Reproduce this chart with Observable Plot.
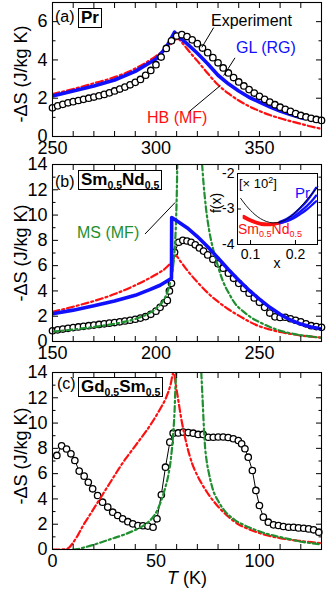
<!DOCTYPE html>
<html><head><meta charset="utf-8">
<script src="https://cdn.jsdelivr.net/npm/d3@7"></script>
<script src="https://cdn.jsdelivr.net/npm/@observablehq/plot@0.6"></script>
<style>
html,body{margin:0;padding:0;background:#fff;}
#wrap{position:relative;width:327px;height:591px;overflow:hidden;font-family:"Liberation Sans",Arial,sans-serif;color:#000;}
#wrap svg{position:absolute;left:0;overflow:visible;}
.t{position:absolute;white-space:nowrap;line-height:1;}
.box{position:absolute;border:1.6px solid #000;font-weight:bold;font-size:17px;line-height:18px;height:18px;padding:0 2px;white-space:nowrap;background:#fff;}
.sb{font-size:10.5px;position:relative;top:4px;}
.sbi{font-size:9px;position:relative;top:3px;}
</style></head><body><div id="wrap"></div>
<script>
// ---------- Panel (a) Pr ----------
const prT = [250,252.5,255,257.5,260,262.5,265,267.5,270,272.5,275,277.5,280,282.5,285,287.5,290,292.5,295,297.5,300,302.5,305,307.5,310,312.5,315,317.5,320,322.5,325,327.5,330,332.5,335,337.5,340,342.5,345,347.5,350,352.5,355,357.5,360,362.5,365,367.5,370,372.5,375,377.5,380];
const prExp = [1.50,1.60,1.68,1.76,1.82,1.88,1.94,2.00,2.06,2.13,2.20,2.28,2.38,2.48,2.58,2.70,2.83,2.98,3.20,3.45,3.75,4.15,4.60,5.00,5.25,5.32,5.22,5.05,4.85,4.62,4.38,4.12,3.85,3.58,3.32,3.08,2.85,2.64,2.45,2.27,2.10,1.94,1.80,1.66,1.53,1.42,1.31,1.20,1.10,1.02,0.95,0.89,0.84];
const prGLT = [250,260,270,280,290,300,303,306,309,311,315,320,325,330,335,340,345,350,355,360,365,371];
const prGL  = [2.12,2.38,2.64,2.95,3.40,4.05,4.40,4.85,5.45,5.20,4.85,4.35,3.80,3.20,2.75,2.38,2.05,1.80,1.55,1.33,1.15,0.95];
const prHBT = [250,260,270,280,290,300,305,310.5,313,316,320,325,330,335,340,345,350,355,360,365,370,375,380];
const prHB  = [2.22,2.48,2.78,3.10,3.55,4.20,4.60,5.10,4.85,4.45,3.95,3.30,2.70,2.25,1.88,1.58,1.33,1.12,0.95,0.80,0.66,0.52,0.40];

// ---------- Panel (b) Sm0.5Nd0.5 ----------
const smT = [150,152.5,155,157.5,160,162.5,165,167.5,170,172.5,175,177.5,180,182.5,185,187.5,190,192.5,195,197.5,200,202,204,205.5,206.5,207.5,209,211,213,215,217,219,221,223,225,227.5,230,232.5,235,237.5,240,242.5,245,247.5,250,252.5,255,257.5,260,262.5,265,267.5,270,272.5,275,277.5,280];
const smExp = [0.85,0.92,0.98,1.04,1.10,1.15,1.20,1.25,1.30,1.35,1.40,1.45,1.50,1.56,1.62,1.68,1.76,1.85,1.97,2.15,2.40,2.70,3.05,3.25,4.00,4.60,7.05,7.85,8.00,7.95,7.85,7.65,7.40,7.15,6.85,6.50,6.15,5.80,5.40,5.00,4.60,4.20,3.82,3.45,3.10,2.70,2.25,1.95,1.90,1.92,1.80,1.68,1.55,1.40,1.25,1.18,1.12];
const smGLT = [150,160,170,180,190,197,202,205,207.5,207.6,210,215,220,225,230,235,240,245,250,255,260,265,270,275,280];
const smGL  = [2.20,2.48,2.82,3.20,3.65,4.10,4.45,4.75,5.00,9.80,9.55,9.00,8.30,7.50,6.60,5.70,4.85,4.05,3.35,2.70,2.15,1.70,1.38,1.15,1.00];
const smHBT = [150,160,170,180,190,195,200,205,207,209.5,212,216,220,225,230,235,240,245,250,255,260,265,270,275,280];
const smHB  = [2.35,2.75,3.20,3.75,4.45,4.85,5.30,5.85,6.20,6.80,6.30,5.45,4.70,3.85,3.15,2.55,2.05,1.58,1.20,0.95,0.75,0.60,0.47,0.38,0.30];
const smMSlowT = [150,160,170,180,190,195,200,203,205.5,207,208.5,209.3,209.8,210.1,210.3];
const smMSlow  = [0.78,0.95,1.15,1.40,1.78,2.10,2.60,3.10,3.90,4.80,6.30,8.00,10.0,12.0,14.0];
const smMShighT = [222.3,223,224,225.7,227.5,229,232.3,235.5,238,242,246,251.7,257,263,270,280];
const smMShigh  = [14.0,12.5,10.8,8.80,7.40,6.50,4.80,3.74,3.05,2.40,1.90,1.40,1.02,0.72,0.50,0.30];

// inset f(x)
const fxCurveX = [0.078,0.09,0.10,0.11,0.122,0.135,0.15,0.165,0.18,0.195,0.21,0.225,0.24,0.25];
const fxCurve  = [-2.70,-2.90,-3.04,-3.16,-3.27,-3.35,-3.39,-3.37,-3.29,-3.15,-2.96,-2.74,-2.52,-2.38];
const fxSmX = [0.085,0.10,0.115,0.13,0.145,0.16,0.175];
const fxSm1 = [-3.20,-3.30,-3.37,-3.41,-3.42,-3.40,-3.35];
const fxSm2 = [-3.25,-3.34,-3.41,-3.45,-3.45,-3.42,-3.36];
const fxPrX = [0.165,0.18,0.195,0.21,0.225,0.24,0.246];
const fxPr1 = [-3.36,-3.28,-3.15,-2.98,-2.78,-2.52,-2.40];
const fxPr2 = [-3.38,-3.32,-3.22,-3.08,-2.92,-2.72,-2.62];
const fxPr3 = [-3.40,-3.35,-3.27,-3.15,-3.02,-2.85,-2.78];

// ---------- Panel (c) Gd0.5Sm0.5 ----------
const gdT = [2.1,4.4,6.8,8.9,10.8,12.9,15.3,17.3,19.4,21.8,24.2,26.7,29.1,31.5,33.9,36.4,38.8,41.3,43.7,46.1,48.6,50.5,52.6,54.6,56.7,58.3,60.8,63.2,65.6,68,70.4,72.8,75.3,77.7,80.1,82.5,84.9,87.4,89.8,91.4,93,94.6,96.6,98.3,100,101.9,104.3,106.8,109.2,111.6,114.1,116.5,118.9,121.4,123.8,126.2,128.7];
const gdExp = [7.44,8.20,7.95,7.57,7.04,6.20,5.80,5.32,4.80,4.27,3.74,3.35,2.95,2.69,2.43,2.20,2.03,1.90,1.88,1.85,1.76,2.43,4.33,6.51,8.49,9.20,9.22,9.28,9.25,9.20,9.10,9.10,8.88,8.88,8.90,8.90,8.86,8.76,8.62,8.36,7.97,7.30,6.25,4.67,3.48,2.56,2.16,1.95,1.90,1.82,1.76,1.76,1.71,1.68,1.63,1.56,1.37];
const gdHBT = [0,3,6,8,10,12.5,15,17.5,20,22.5,25,27.5,30,32.5,35,37.5,40,42.5,45,47.5,50,52.5,55,57,58.5,60,62.5,65,67.5,70,72.5,75,80,85,90,95,100,105,110,115,120,125,130];
const gdHB  = [0,0,0.02,0.15,0.55,1.20,1.95,2.60,3.25,3.90,4.55,5.20,5.85,6.50,7.10,7.65,8.20,8.75,9.30,9.90,10.55,11.25,12.05,13.0,14.0,12.6,10.1,8.20,6.80,5.85,5.10,4.45,3.40,2.60,1.98,1.60,1.30,1.07,0.90,0.77,0.67,0.58,0.50];
const gdMSlowT = [10,12,15,20,25,30,35,40,45,48,50.5,52.5,54.5,56,57.3,58.3,59,59.4,59.7];
const gdMSlow  = [0,0.03,0.15,0.38,0.65,0.92,1.20,1.55,2.00,2.45,3.05,3.85,4.90,5.90,7.30,9.10,11.0,12.8,14.0];
const gdMShighT = [71.9,72.5,73,73.6,74.5,75.5,77.5,80,83,88,93,97,104,110,115,120,125,130];
const gdMShigh  = [14.0,12.0,10.2,8.40,7.00,6.10,4.75,3.85,3.10,2.35,1.90,1.62,1.22,0.98,0.80,0.62,0.50,0.40];

// tick values
const prXTicks = [250,300,350];
const prXMinor = [250,260,270,280,290,300,310,320,330,340,350,360,370,380];
const prYTicks = [0,2,4,6];
const prYMinor = [1,3,5];
const smXTicks = [150,200,250];
const smXMinor = [160,170,180,190,200,210,220,230,240,250,260,270];
const gdXTicks = [0,50,100];
const gdXMinor = [10,20,30,40,50,60,70,80,90,100,110,120];
const bigYTicks = [0,2,4,6,8,10,12,14];
const bigYMinor = [1,3,5,7,9,11,13];
const insetYTicks = [-2,-3,-4];
const insetXTicks = [0.1,0.2];

// pointer lines (data coords of leader lines)
const prPointers = [
  {x1:327.9,y1:5.69,x2:322.2,y2:4.66},
  {x1:338.2,y1:4.11,x2:332.7,y2:3.18},
  {x1:315.7,y1:1.27,x2:331.1,y2:2.66}
];
const smPointers = [{x1:194.7,y1:8.5,x2:209.3,y2:11.0}];

const BLUE = "#1010ff", RED = "#ff1010", GREEN = "#1f8f2f";
const FONT = "'Liberation Sans', Arial, sans-serif";
const zip = (xs, ys) => xs.map((x, i) => ({x, y: ys[i]}));
const fmt = d => String(d);
const none = () => "";

function frameAxes(o) {
  return [
    Plot.frame({stroke: "#000", strokeWidth: 1.1}),
    Plot.axisX({ticks: o.xTicks, anchor: "bottom", tickSize: 0, tickPadding: 5, tickFormat: fmt, label: null, fontSize: 18}),
    Plot.axisX({ticks: o.xMinor, anchor: "bottom", tickSize: -5, tickFormat: none, label: null}),
    Plot.axisX({ticks: o.xMinor, anchor: "top", tickSize: -5, tickFormat: none, label: null}),
    Plot.axisY({ticks: o.yTicks, anchor: "left", tickSize: 0, tickPadding: 5, tickFormat: fmt, label: null, fontSize: 18}),
    Plot.axisY({ticks: o.yTicks, anchor: "left", tickSize: -6, tickFormat: none, label: null}),
    Plot.axisY({ticks: o.yMinor, anchor: "left", tickSize: -3.5, tickFormat: none, label: null}),
    Plot.axisY({ticks: o.yTicks, anchor: "right", tickSize: -6, tickFormat: none, label: null}),
    Plot.axisY({ticks: o.yMinor, anchor: "right", tickSize: -3.5, tickFormat: none, label: null})
  ];
}

function panel(o) {
  return Plot.plot({
    width: 327, height: o.height,
    marginLeft: 52, marginRight: 6, marginTop: o.marginTop, marginBottom: o.marginBottom,
    style: {fontFamily: FONT, fontSize: "18px", color: "#000", background: "transparent", overflow: "visible"},
    x: {domain: o.xDomain}, y: {domain: o.yDomain},
    marks: [...o.marks, ...frameAxes(o)]
  });
}

const dash = (color, arr) => ({x: "x", y: "y", stroke: color, strokeWidth: 2.2, strokeDasharray: arr, curve: "monotone-x", clip: true});
const RD = "7,3,2,3", GD = "6,3,2,3";

const wrap = document.getElementById("wrap");
function place(svg, top) { svg.style.top = top + "px"; wrap.appendChild(svg); }

// Panel a
place(panel({
  height: 160, marginTop: 2, marginBottom: 24, xDomain: [250, 380], yDomain: [0, 7],
  xTicks: prXTicks, xMinor: prXMinor, yTicks: prYTicks, yMinor: prYMinor,
  marks: [
    Plot.line(zip(prHBT, prHB), dash(RED, RD)),
    Plot.line(zip(prGLT, prGL), {x: "x", y: "y", stroke: BLUE, strokeWidth: 3.6, clip: true}),
    Plot.dot(zip(prT, prExp), {x: "x", y: "y", r: 3.2, stroke: "#000", strokeWidth: 1.3, fill: "#fff"}),
    Plot.link(prPointers, {x1: "x1", y1: "y1", x2: "x2", y2: "y2", stroke: "#000", strokeWidth: 1})
  ]
}), 0);

// Panel b
place(panel({
  height: 208, marginTop: 4, marginBottom: 27, xDomain: [150, 280], yDomain: [0, 14],
  xTicks: smXTicks, xMinor: smXMinor, yTicks: bigYTicks, yMinor: bigYMinor,
  marks: [
    Plot.line(zip(smT, smExp), {x: "x", y: "y", stroke: "#000", strokeWidth: 1}),
    Plot.dot(zip(smT, smExp), {x: "x", y: "y", r: 3.2, stroke: "#000", strokeWidth: 1.3, fill: "#fff"}),
    Plot.line(zip(smHBT, smHB), dash(RED, RD)),
    Plot.line(zip(smMSlowT, smMSlow), dash(GREEN, GD)),
    Plot.line(zip(smMShighT, smMShigh), dash(GREEN, GD)),
    Plot.line(zip(smGLT, smGL), {x: "x", y: "y", stroke: BLUE, strokeWidth: 3.6, clip: true}),
    Plot.link(smPointers, {x1: "x1", y1: "y1", x2: "x2", y2: "y2", stroke: "#000", strokeWidth: 1})
  ]
}), 160);

// Panel c
place(panel({
  height: 223, marginTop: 4, marginBottom: 42, xDomain: [0, 130], yDomain: [0, 14],
  xTicks: gdXTicks, xMinor: gdXMinor, yTicks: bigYTicks, yMinor: bigYMinor,
  marks: [
    Plot.line(zip(gdT, gdExp), {x: "x", y: "y", stroke: "#000", strokeWidth: 1}),
    Plot.dot(zip(gdT, gdExp), {x: "x", y: "y", r: 3.2, stroke: "#000", strokeWidth: 1.3, fill: "#fff"}),
    Plot.line(zip(gdHBT, gdHB), dash(RED, RD)),
    Plot.line(zip(gdMSlowT, gdMSlow), dash(GREEN, GD)),
    Plot.line(zip(gdMShighT, gdMShigh), dash(GREEN, GD))
  ]
}), 368);

// Inset
const inset = Plot.plot({
  width: 121, height: 105, marginLeft: 37, marginRight: 4, marginTop: 8, marginBottom: 26,
  style: {fontFamily: FONT, fontSize: "14px", color: "#000", background: "transparent", overflow: "visible"},
  x: {domain: [0.071, 0.249]}, y: {domain: [-4, -2]},
  marks: [
    Plot.frame({fill: "#fff", stroke: null}),
    ...[fxSm1, fxSm2].map(f => Plot.line(zip(fxSmX, f), {x: "x", y: "y", stroke: RED, strokeWidth: 2.4, curve: "monotone-x"})),
    ...[fxPr1, fxPr2, fxPr3].map(f => Plot.line(zip(fxPrX, f), {x: "x", y: "y", stroke: BLUE, strokeWidth: 2.2, curve: "monotone-x"})),
    Plot.line(zip(fxCurveX, fxCurve), {x: "x", y: "y", stroke: "#000", strokeWidth: 0.9, curve: "monotone-x"}),
    Plot.frame({stroke: "#000", strokeWidth: 1}),
    Plot.axisY({ticks: insetYTicks, anchor: "left", tickSize: 0, tickPadding: 3, tickFormat: fmt, label: null, fontSize: 14}),
    Plot.axisY({ticks: insetYTicks, anchor: "left", tickSize: -4, tickFormat: none, label: null}),
    Plot.axisX({ticks: insetXTicks, anchor: "bottom", tickSize: 0, tickPadding: 5, tickFormat: fmt, label: null, fontSize: 14}),
    Plot.axisX({ticks: insetXTicks, anchor: "bottom", tickSize: -4, tickFormat: none, label: null})
  ]
});
inset.style.left = "200px";
place(inset, 165);

// ---------- HTML text overlays ----------
function txt(html, x, y, {size = 16, color = "#000", anchor = "start", rotate = false} = {}) {
  const d = document.createElement("div");
  d.className = "t";
  d.innerHTML = html;
  d.style.left = x + "px";
  d.style.top = y + "px";
  d.style.fontSize = size + "px";
  d.style.color = color;
  const tx = anchor === "middle" ? "-50%" : anchor === "end" ? "-100%" : "0";
  d.style.transform = rotate ? "translate(-50%,-50%) rotate(-90deg)" : `translate(${tx},-50%)`;
  wrap.appendChild(d);
}
function box(html, x, y) {
  const d = document.createElement("div");
  d.className = "box";
  d.innerHTML = html;
  d.style.left = x + "px";
  d.style.top = y + "px";
  wrap.appendChild(d);
}
const yLabel = "-ΔS (J/kg K)";
txt(yLabel, 21, 74, {size: 18, rotate: true});
txt(yLabel, 21, 253, {size: 18, rotate: true});
txt(yLabel, 21, 456, {size: 18, rotate: true});
txt('<i>T</i> (K)', 187, 578, {size: 18, anchor: "middle"});

txt("(a)", 55, 17, {size: 16});
box("Pr", 78, 8);
txt("Experiment", 211, 21, {size: 16});
txt("GL (RG)", 236, 48, {size: 16, color: BLUE});
txt("HB (MF)", 147, 118, {size: 16, color: RED});

txt("(b)", 55, 182, {size: 16});
box('Sm<span class="sb">0.5</span>Nd<span class="sb">0.5</span>', 78, 170);
txt("MS (MF)", 77, 233, {size: 16, color: GREEN});

txt("(c)", 57, 384, {size: 16});
box('Gd<span class="sb">0.5</span>Sm<span class="sb">0.5</span>', 78, 377);

txt("[× 10<sup style='font-size:9px'>2</sup>]", 239, 183, {size: 13});
txt("Pr", 295, 192, {size: 15, color: BLUE});
txt('Sm<span class="sbi">0.5</span>Nd<span class="sbi">0.5</span>', 238, 229, {size: 14, color: RED});
txt("f(x)", 216, 203, {size: 14, rotate: true});
txt("x", 277, 263, {size: 14, anchor: "middle"});
</script></body></html>
